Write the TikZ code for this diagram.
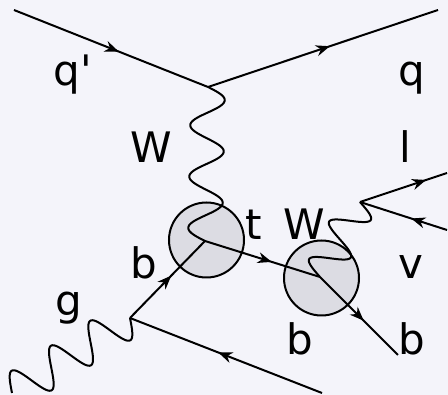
\documentclass[tikz,border=0pt]{standalone}
\usepackage{fontspec}
\newfontfamily\lblfont{DejaVu Sans}[Ligatures=TeXOff]
\usetikzlibrary{arrows.meta, calc, decorations.markings}
\definecolor{mybg}{RGB}{244,244,250}
\definecolor{myblob}{RGB}{220,220,227}
\tikzset{
  line/.style={line width=2pt, color=black},
  fermion/.style={line, postaction={decorate, decoration={markings,
    mark=at position #1 with {\arrow{Stealth[length=14pt, width=11pt]}}}}},
  blob/.style={circle, draw=black, fill=myblob, minimum size=75pt,
    inner sep=0pt, line width=2pt},
  lbl/.style={font=\lblfont\fontsize{42}{50}\selectfont, inner sep=0pt, anchor=base}
}
% wavy line from #1 to #2, #3 periods, amplitude #4 (first swing to the left)
\newcommand{\bosonline}[4]{%
  \draw[line] let \p1=(#1), \p2=(#2), \n1={veclen(\x2-\x1,\y2-\y1)},
    \n2={atan2(\y2-\y1,\x2-\x1)} in
    [shift={(\p1)}, rotate=\n2]
    plot[variable=\t, domain=0:\n1, samples=120, smooth]
    (\t, {#4*sin(360*#3*(\t/\n1))});}

\begin{document}
\begin{tikzpicture}[x=1pt, y=-1pt]
  \fill[mybg] (0,0) rectangle (448,395);
  \useasboundingbox (0,0) rectangle (448,395);
  % vertices
  \coordinate (qv) at (208,87);
  \coordinate (tv) at (205,241);
  \coordinate (bv) at (320,277);
  \coordinate (lv) at (360,202);
  \coordinate (gv) at (130,318);
  % external legs
  \coordinate (qpin) at (14,10);
  \coordinate (qout) at (438,10);
  \coordinate (lout) at (447,173);
  \coordinate (vin) at (447,230);
  \coordinate (bout) at (398,355);
  \coordinate (gin) at (12,393);
  \coordinate (qbar) at (322,393);
  % blobs
  \node[blob] (topblob) at (206.5,240) {};
  \node[blob] (wblob) at (321.5,278) {};
  % lines
  \draw[fermion=0.54] (qpin) -- (qv);
  \draw[fermion=0.53] (qv) -- (qout);
  \bosonline{qv}{tv}{3}{17}
  \draw[fermion=0.55] (gv) -- (tv);
  \draw[fermion=0.58] (tv) -- (bv);
  \bosonline{bv}{lv}{2}{18}
  \draw[fermion=0.56] (bv) -- (bout);
  \draw[fermion=0.76] (lv) -- (lout);
  \draw[fermion=0.41] (vin) -- (lv);
  \bosonline{gin}{gv}{3}{19}
  \draw[fermion=0.54] (qbar) -- (gv);
  % labels
  \node[lbl] (lqp) at (73,86) {q'};
  \node[lbl] (lq) at (412,86) {q};
  \node[lbl] (lw) at (151,163) {W};
  \node[lbl] (ll) at (405,163) {l};
  \node[lbl] (lt) at (254,240) {t};
  \node[lbl] (lw2) at (304,240) {W};
  \node[lbl] (lb) at (144,279) {b};
  \node[lbl] (lv2) at (411,279) {v};
  \node[lbl] (lg) at (69,316) {g};
  \node[lbl] (lb2) at (300,355) {b};
  \node[lbl] (lb3) at (412,355) {b};
\end{tikzpicture}
\end{document}
